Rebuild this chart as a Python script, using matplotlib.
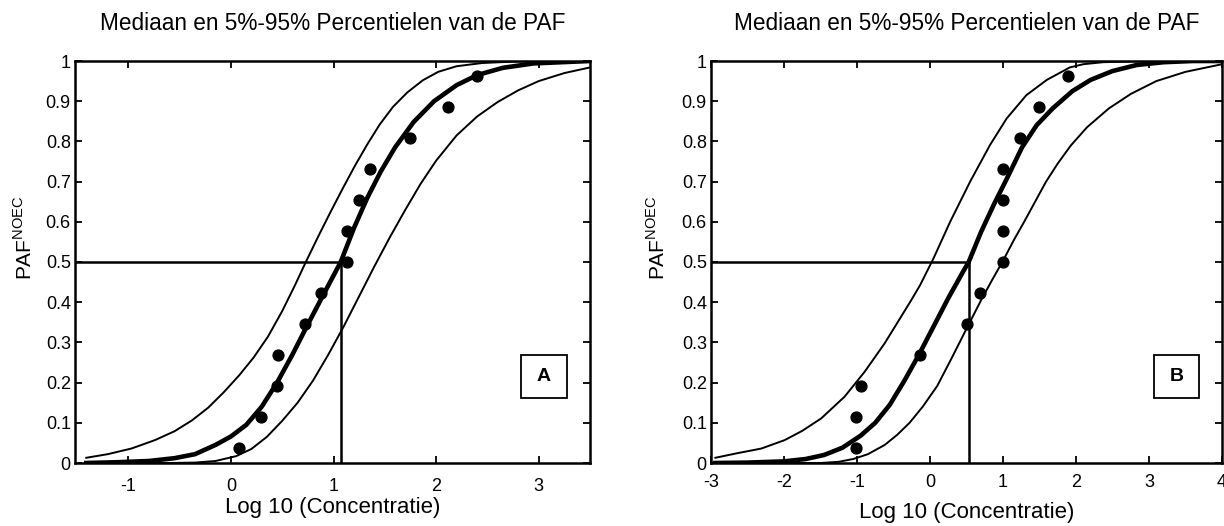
import matplotlib
matplotlib.use('Agg')
import matplotlib.pyplot as plt
from matplotlib.patches import Rectangle

plt.rcParams['font.family'] = ['Liberation Sans', 'DejaVu Sans']
plt.rcParams['mathtext.fontset'] = 'custom'
plt.rcParams['mathtext.rm'] = 'Liberation Sans'

# ---------------- Data: panel A ----------------
a_upper_x = [-1.41, -1.2, -0.97, -0.74, -0.55, -0.38, -0.22, -0.07, 0.08, 0.22, 0.36, 0.50, 0.62, 0.73, 0.85, 0.97,
             1.09, 1.21, 1.33, 1.45, 1.58, 1.72, 1.87, 2.02, 2.2, 2.45, 2.8, 3.5]
a_upper_y = [0.013, 0.022, 0.036, 0.057, 0.079, 0.106, 0.138, 0.176, 0.218, 0.262, 0.314, 0.378, 0.440, 0.500, 0.563,
             0.624, 0.683, 0.740, 0.793, 0.842, 0.886, 0.922, 0.952, 0.973, 0.987, 0.995, 0.999, 1.0]
a_median_x = [-1.41, -1.1, -0.8, -0.55, -0.35, -0.15, 0.0, 0.15, 0.30, 0.45, 0.60, 0.75, 0.90, 1.07, 1.20, 1.33, 1.46,
              1.60, 1.78, 1.98, 2.2, 2.4, 2.65, 2.95, 3.5]
a_median_y = [0.0, 0.002, 0.005, 0.012, 0.022, 0.045, 0.066, 0.095, 0.140, 0.200, 0.270, 0.345, 0.418, 0.500, 0.585,
              0.660, 0.725, 0.785, 0.848, 0.900, 0.940, 0.965, 0.983, 0.994, 1.0]
a_lower_x = [-1.41, -0.6, -0.35, -0.15, 0.05, 0.2, 0.35, 0.5, 0.65, 0.8, 0.95, 1.1, 1.25, 1.40, 1.55, 1.70, 1.85, 2.0,
             2.2, 2.4, 2.6, 2.8, 3.0, 3.25, 3.5]
a_lower_y = [0.0, 0.0, 0.001, 0.005, 0.017, 0.035, 0.065, 0.105, 0.150, 0.205, 0.270, 0.340, 0.415, 0.490, 0.562,
             0.630, 0.695, 0.752, 0.815, 0.862, 0.898, 0.927, 0.950, 0.970, 0.984]
a_points_x = [0.076, 0.295, 0.445, 0.455, 0.72, 0.88, 1.135, 1.135, 1.253, 1.357, 1.748, 2.113, 2.397]
a_points_y = [0.038, 0.115, 0.192, 0.269, 0.346, 0.423, 0.500, 0.577, 0.654, 0.731, 0.808, 0.885, 0.962]
a_hc50 = 1.07
a_xlim = (-1.52, 3.5)
a_xticks = [-1, 0, 1, 2, 3]

# ---------------- Data: panel B ----------------
b_upper_x = [-2.94, -2.65, -2.31, -1.99, -1.75, -1.49, -1.17, -0.895, -0.62, -0.257, -0.134, 0.048, 0.276, 0.55,
             0.822, 1.05, 1.32, 1.60, 1.915, 2.1, 2.37, 3.0, 4.0]
b_upper_y = [0.013, 0.024, 0.036, 0.057, 0.080, 0.111, 0.165, 0.227, 0.298, 0.405, 0.443, 0.509, 0.600, 0.700,
             0.791, 0.857, 0.915, 0.953, 0.984, 0.992, 0.997, 1.0, 1.0]
b_median_x = [-2.94, -2.5, -2.0, -1.7, -1.45, -1.2, -0.95, -0.75, -0.55, -0.35, -0.15, 0.05, 0.25, 0.45, 0.53, 0.70,
              0.88, 1.06, 1.26, 1.46, 1.68, 1.95, 2.2, 2.5, 2.83, 3.2, 3.6, 4.0]
b_median_y = [0.0, 0.001, 0.004, 0.010, 0.020, 0.038, 0.068, 0.100, 0.145, 0.205, 0.270, 0.340, 0.410, 0.475, 0.500,
              0.575, 0.645, 0.710, 0.785, 0.840, 0.882, 0.925, 0.953, 0.975, 0.990, 0.997, 1.0, 1.0]
b_lower_x = [-2.94, -1.5, -1.25, -1.05, -0.85, -0.62, -0.45, -0.28, -0.1, 0.1, 0.3, 0.5, 0.7, 0.85, 1.0, 1.15, 1.29,
             1.44, 1.59, 1.75, 1.93, 2.15, 2.45, 2.75, 3.1, 3.5, 4.0]
b_lower_y = [0.0, 0.0, 0.003, 0.010, 0.022, 0.045, 0.070, 0.100, 0.140, 0.192, 0.262, 0.334, 0.405, 0.455, 0.503,
             0.555, 0.600, 0.650, 0.700, 0.745, 0.790, 0.835, 0.882, 0.918, 0.950, 0.973, 0.992]
b_points_x = [-1.007, -1.007, -0.947, -0.141, 0.512, 0.684, 1.0, 1.0, 1.0, 1.0, 1.23, 1.495, 1.896]
b_points_y = [0.038, 0.115, 0.192, 0.269, 0.346, 0.423, 0.500, 0.577, 0.654, 0.731, 0.808, 0.885, 0.962]
b_hc50 = 0.53
b_xlim = (-3, 4)
b_xticks = [-3, -2, -1, 0, 1, 2, 3, 4]

y_ticks = [0, 0.1, 0.2, 0.3, 0.4, 0.5, 0.6, 0.7, 0.8, 0.9, 1.0]
y_ticklabels = ['0', '0.1', '0.2', '0.3', '0.4', '0.5', '0.6', '0.7', '0.8', '0.9', '1']

title_text = 'Mediaan en 5%-95% Percentielen van de PAF'
xlabel_text = 'Log 10 (Concentratie)'
ylabel_text = r'PAF$^{\mathrm{NOEC}}$'

W, H = 1224, 526
fig = plt.figure(figsize=(W / 100, H / 100), dpi=100)
axA = fig.add_axes([75 / W, 1 - 463 / H, 515 / W, 402 / H])
axB = fig.add_axes([711 / W, 1 - 463 / H, 511 / W, 402 / H])


def draw(ax, ux, uy, mx, my, lx, ly, px, py, hc50, xlim, xticks, letter,
         xpad, xlab_y, ylab_x):
    ax.plot(ux, uy, color='black', lw=1.4, solid_joinstyle='round')
    ax.plot(lx, ly, color='black', lw=1.4, solid_joinstyle='round')
    ax.plot(mx, my, color='black', lw=3.3, solid_joinstyle='round')
    ax.plot([xlim[0], hc50], [0.5, 0.5], color='black', lw=1.8)
    ax.plot([hc50, hc50], [0, 0.5], color='black', lw=1.8)
    ax.plot(px, py, 'o', color='black', ms=7.8, zorder=5)
    ax.set_xlim(*xlim)
    ax.set_ylim(0, 1)
    ax.set_xticks(xticks)
    ax.set_xticklabels([str(t) for t in xticks])
    ax.set_yticks(y_ticks)
    ax.set_yticklabels(y_ticklabels)
    for s in ax.spines.values():
        s.set_linewidth(1.8)
    ax.tick_params(direction='in', top=True, right=True, length=5, width=1.3,
                   labelsize=13)
    ax.tick_params(axis='x', pad=xpad)
    ax.tick_params(axis='y', pad=3)
    ax.set_title(title_text, fontsize=16.3, pad=22)
    ax.set_xlabel(xlabel_text, fontsize=16)
    ax.xaxis.set_label_coords(0.5, xlab_y)
    ax.text(ylab_x, 0.56, ylabel_text, rotation=90, ha='center', va='center',
            fontsize=15, transform=ax.transAxes)
    ax.add_patch(Rectangle((0.866, 0.162), 0.089, 0.107, transform=ax.transAxes,
                           facecolor='white', edgecolor='black', lw=1.3, zorder=6))
    ax.text(0.9105, 0.2155, letter, ha='center', va='center', fontsize=14,
            fontweight='bold', transform=ax.transAxes, zorder=7)


draw(axA, a_upper_x, a_upper_y, a_median_x, a_median_y, a_lower_x, a_lower_y,
     a_points_x, a_points_y, a_hc50, a_xlim, a_xticks, 'A', 11, -0.085, -0.099)
draw(axB, b_upper_x, b_upper_y, b_median_x, b_median_y, b_lower_x, b_lower_y,
     b_points_x, b_points_y, b_hc50, b_xlim, b_xticks, 'B', 8, -0.098, -0.105)

fig.savefig('out.png', dpi=100)
